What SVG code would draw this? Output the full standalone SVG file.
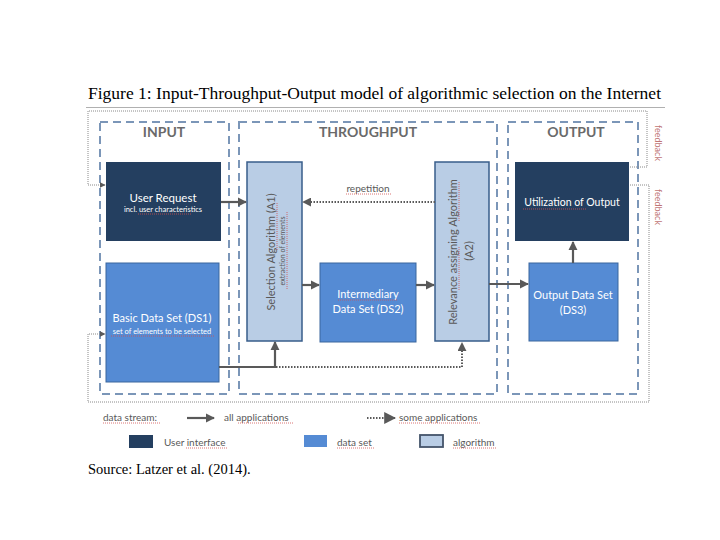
<svg xmlns="http://www.w3.org/2000/svg" width="720" height="540" viewBox="0 0 720 540">
<defs>
<style>
.serif{font-family:"Liberation Serif","Times New Roman",serif;fill:#000}
.sans{font-family:Lato,"Open Sans","Liberation Sans",sans-serif}
.sec{fill:none;stroke:#7b96b8;stroke-width:2;stroke-dasharray:8,5}
.hdr{font-size:14px;font-weight:bold;fill:#6a6a6a;text-anchor:middle}
.ui{fill:#243f60}
.ds{fill:#558bd4;stroke:#3a669e;stroke-width:1}
.alg{fill:#b9cde5;stroke:#385d8a;stroke-width:1.5}
.wt{fill:#ffffff;text-anchor:middle}
.gt{fill:#595959;text-anchor:middle}
.solid{fill:none;stroke:#595959;stroke-width:2.2}
.dot{fill:none;stroke:#595959;stroke-width:2;stroke-dasharray:1.5,1.5}
.fb{fill:none;stroke:#8a8a8a;stroke-width:1;stroke-dasharray:1,1}
.sp{fill:none;stroke:#d05050;stroke-width:0.8;stroke-dasharray:1,1}
.lg{font-size:10px;fill:#595959}
</style>
<marker id="ah" viewBox="0 0 10 10" refX="9" refY="5" markerWidth="4.2" markerHeight="4.2" orient="auto" markerUnits="strokeWidth">
<path d="M0,0 L10,5 L0,10 z" fill="#595959"/>
</marker>
<marker id="ahd" viewBox="0 0 10 10" refX="9" refY="5" markerWidth="4.5" markerHeight="4.5" orient="auto" markerUnits="strokeWidth">
<path d="M0,0 L10,5 L0,10 z" fill="#595959"/>
</marker>
<marker id="ahs" viewBox="0 0 10 10" refX="9" refY="5" markerWidth="6" markerHeight="6" orient="auto" markerUnits="strokeWidth">
<path d="M0,0 L10,5 L0,10 z" fill="#595959"/>
</marker>
</defs>
<rect width="720" height="540" fill="#ffffff"/>

<text class="serif" x="88" y="99" font-size="17.5">Figure 1: Input-Throughput-Output model of algorithmic selection on the Internet</text>
<line x1="86" y1="107.5" x2="665" y2="107.5" stroke="#b0b0b0" stroke-width="1"/>

<!-- sections -->
<g id="sec-input">
<rect class="sec" x="100" y="122" width="129" height="272"/>
<text class="sans hdr" x="164" y="137">INPUT</text>
</g>
<g id="sec-throughput">
<rect class="sec" x="239" y="122" width="258" height="272"/>
<text class="sans hdr" x="368" y="137">THROUGHPUT</text>
</g>
<g id="sec-output">
<rect class="sec" x="508" y="122" width="130" height="272"/>
<text class="sans hdr" x="576" y="137">OUTPUT</text>
</g>

<!-- nodes -->
<g id="user-request">
<rect class="ui" x="106" y="162" width="115" height="79"/>
<text class="sans wt" x="163" y="202" font-size="11.5">User Request</text>
<text class="sans wt" x="163" y="212" font-size="7.5">incl. user characteristics</text>
<line class="sp" x1="138" y1="214" x2="192" y2="214"/>
</g>
<g id="basic-data-set">
<rect class="ds" x="106" y="263" width="113" height="119"/>
<text class="sans wt" x="162" y="322" font-size="11">Basic Data Set (DS1)</text>
<text class="sans wt" x="162" y="334" font-size="7.5">set of elements to be selected</text>
<line class="sp" x1="111" y1="336" x2="214" y2="336"/>
</g>
<g id="selection-algorithm">
<rect class="alg" x="247" y="162" width="55" height="179"/>
<text class="sans gt" font-size="11" transform="translate(275,252) rotate(-90)">Selection Algorithm (A1)</text>
<text class="sans gt" font-size="7" transform="translate(285,251) rotate(-90)">extraction of elements</text>
<line class="sp" x1="277" y1="203" x2="277" y2="250"/>
<line class="sp" x1="287" y1="212" x2="287" y2="290"/>
</g>
<g id="intermediary-data-set">
<rect class="ds" x="320" y="263" width="96" height="79"/>
<text class="sans wt" x="368" y="298" font-size="11">Intermediary</text>
<text class="sans wt" x="368" y="313" font-size="11">Data Set (DS2)</text>
<line class="sp" x1="338" y1="300" x2="398" y2="300"/>
</g>
<g id="relevance-algorithm">
<rect class="alg" x="435" y="162" width="54" height="179"/>
<text class="sans gt" font-size="11" transform="translate(457,252) rotate(-90)">Relevance assigning Algorithm</text>
<text class="sans gt" font-size="11" transform="translate(473,251) rotate(-90)">(A2)</text>
<line class="sp" x1="459" y1="182" x2="459" y2="222"/>
<line class="sp" x1="459" y1="247" x2="459" y2="290"/>
</g>
<g id="utilization">
<rect class="ui" x="515" y="162" width="114" height="79"/>
<text class="sans wt" x="572" y="206" font-size="10.5">Utilization of Output</text>
<line class="sp" x1="523" y1="209" x2="586" y2="209"/>
</g>
<g id="output-data-set">
<rect class="ds" x="529" y="263" width="89" height="78"/>
<text class="sans wt" x="573" y="299" font-size="11">Output Data Set</text>
<text class="sans wt" x="573" y="314" font-size="11">(DS3)</text>
</g>

<!-- connectors -->
<g id="connectors">
<line class="solid" x1="221" y1="202" x2="246" y2="202" marker-end="url(#ah)"/>
<line class="dot" x1="435" y1="202" x2="303" y2="202" marker-end="url(#ahd)"/>
<text class="sans gt" x="368" y="192" font-size="10">repetition</text>
<line class="sp" x1="346" y1="194" x2="391" y2="194"/>
<line class="solid" x1="302" y1="285" x2="319" y2="285" marker-end="url(#ah)"/>
<line class="solid" x1="416" y1="285" x2="434" y2="285" marker-end="url(#ah)"/>
<line class="solid" x1="489" y1="284" x2="528" y2="284" marker-end="url(#ah)"/>
<line class="solid" x1="573" y1="263" x2="573" y2="242" marker-end="url(#ah)"/>
<polyline class="solid" points="219,367 275,367 275,342" marker-end="url(#ah)"/>
<polyline class="dot" points="276,367 462,367 462,343" marker-end="url(#ahd)"/>

<!-- feedback loops -->
<polyline class="fb" points="630,167 647,167 647,111 88,111 88,185 105,185" marker-end="url(#ahs)"/>
<polyline class="fb" points="630,185 649,185 649,402 88,402 88,334 105,334" marker-end="url(#ahs)"/>
<text class="sans" font-size="9" fill="#c07575" text-anchor="middle" transform="translate(655,143) rotate(90)">feedback</text>
<text class="sans" font-size="9" fill="#c07575" text-anchor="middle" transform="translate(655,207) rotate(90)">feedback</text>
</g>

<!-- legend -->
<g id="legend">
<text class="sans lg" x="103" y="421">data stream:</text>
<line class="sp" x1="103" y1="423" x2="160" y2="423"/>
<line class="solid" x1="187" y1="418" x2="214" y2="418" stroke-width="1.5" marker-end="url(#ah)"/>
<text class="sans lg" x="224" y="421">all applications</text>
<line class="sp" x1="238" y1="423" x2="293" y2="423"/>
<line class="dot" x1="367" y1="418" x2="395" y2="418" stroke-width="1.2" marker-end="url(#ahs)"/>
<text class="sans lg" x="399" y="421">some applications</text>
<line class="sp" x1="399" y1="423" x2="481" y2="423"/>
<rect class="ui" x="129" y="435" width="24" height="13"/>
<text class="sans lg" x="164" y="446">User interface</text>
<line class="sp" x1="186" y1="448" x2="228" y2="448"/>
<rect x="304" y="435" width="23" height="12" fill="#558bd4"/>
<text class="sans lg" x="337" y="446">data set</text>
<line class="sp" x1="337" y1="448" x2="374" y2="448"/>
<rect x="420" y="435" width="23" height="12" fill="#b9cde5" stroke="#44546a" stroke-width="1.8"/>
<text class="sans lg" x="453" y="446">algorithm</text>
<line class="sp" x1="453" y1="448" x2="497" y2="448"/>
</g>

<text class="serif" x="88" y="474" font-size="14.5">Source: Latzer et al. (2014).</text>
</svg>
